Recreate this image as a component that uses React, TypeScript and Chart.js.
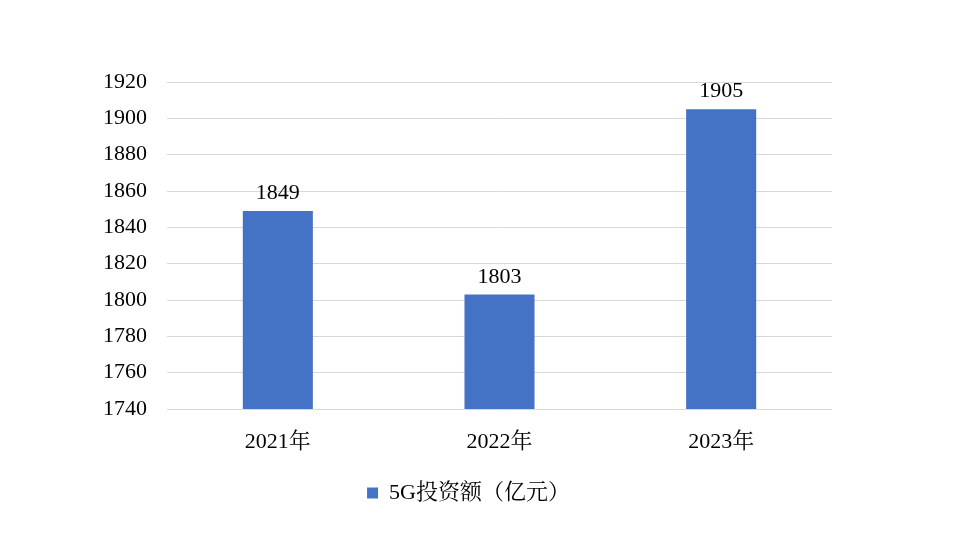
import React, { useEffect, useRef } from "react";
import { Chart, registerables } from "chart.js";

Chart.register(...registerables);

const categories = ["2021年", "2022年", "2023年"];
const investment = [1849, 1803, 1905];
const seriesLabel = "5G投资额（亿元）";
const yMin = 1740;
const yMax = 1920;
const yStep = 20;

const FONT = '"Times New Roman", "Liberation Serif", "Noto Serif CJK SC", "Noto Sans CJK SC", serif';
const FONT_SIZE = 22;
const BAR_COLOR = "#4472C4";

const valueLabels = {
  id: "valueLabels",
  afterDatasetsDraw(chart: any) {
    const ctx = chart.ctx;
    const meta = chart.getDatasetMeta(0);
    ctx.save();
    ctx.font = `${FONT_SIZE}px ${FONT}`;
    ctx.fillStyle = "#000";
    ctx.textAlign = "center";
    ctx.textBaseline = "alphabetic";
    meta.data.forEach((el: any, i: number) => {
      ctx.fillText(String(chart.data.datasets[0].data[i]), el.x, el.y - 12);
    });
    ctx.restore();
  },
};

export default function App() {
  const ref = useRef<HTMLCanvasElement>(null);
  useEffect(() => {
    if (!ref.current) return;
    const chart = new Chart(ref.current, {
      type: "bar",
      data: {
        labels: categories,
        datasets: [
          {
            label: seriesLabel,
            data: investment,
            backgroundColor: BAR_COLOR,
            categoryPercentage: 1,
            barPercentage: 0.316,
            yAxisID: "y",
          },
        ],
      },
      options: {
        animation: false,
        responsive: false,
        maintainAspectRatio: false,
        layout: { padding: { left: 0, right: 18, top: 82, bottom: 38 } },
        scales: {
          x: {
            grid: { display: false },
            border: { display: false },
            ticks: { color: "#000", font: { family: FONT, size: FONT_SIZE }, padding: 12 },
            afterFit: (s: any) => { s.height = 63; },
          },
          y: {
            position: "left",
            min: yMin,
            max: yMax,
            grid: { color: "#d9d9d9", drawTicks: false },
            border: { display: false },
            ticks: {
              stepSize: yStep,
              color: "#000",
              font: { family: FONT, size: FONT_SIZE },
              padding: 20,
              callback: (v: any) => String(v),
            },
            afterFit: (s: any) => { s.width = 167; },
          },
          yRight: {
            position: "right",
            display: true,
            grid: { display: false },
            border: { display: false },
            ticks: { display: false },
            afterFit: (s: any) => { s.width = 105; },
          },
        },
        plugins: {
          legend: {
            position: "bottom",
            labels: {
              color: "#000",
              font: { family: FONT, size: FONT_SIZE },
              boxWidth: 11,
              boxHeight: 11,
              padding: 10,
            },
          },
          tooltip: { enabled: false },
        },
      },
      plugins: [valueLabels],
    });
    return () => chart.destroy();
  }, []);
  return (
    <div style={{ position: "fixed", left: 0, top: 0, width: 955, height: 552, background: "#fff" }}>
      <canvas ref={ref} width={955} height={552} style={{ width: 955, height: 552 }} />
    </div>
  );
}
